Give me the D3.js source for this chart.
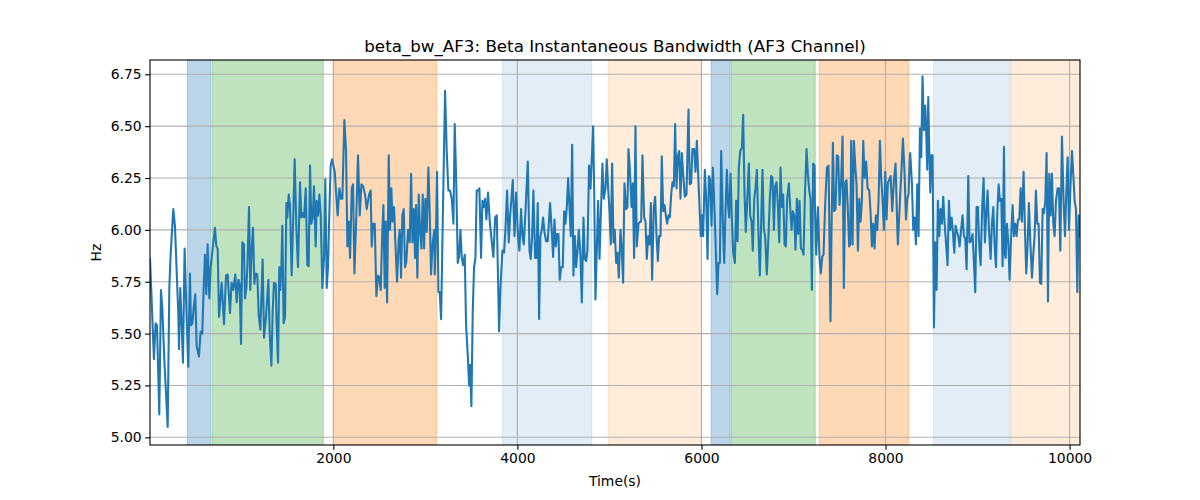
<!DOCTYPE html>
<html><head><meta charset="utf-8">
<script src="https://cdn.jsdelivr.net/npm/d3@7"></script>
<style>body{margin:0;background:#fff}svg{display:block}text{font-family:"DejaVu Sans",sans-serif;fill:#000}</style>
</head><body><div id="chart"></div>
<script>
const title = "beta_bw_AF3: Beta Instantaneous Bandwidth (AF3 Channel)";
const xLabel = "Time(s)";
const yLabel = "Hz";
const xTicks = [2000, 4000, 6000, 8000, 10000];
const yTicks = [5.00, 5.25, 5.50, 5.75, 6.00, 6.25, 6.50, 6.75];
const yDomain = [4.963, 6.819];

const spanStart = [413, 682, 2000, 3837, 4986, 6105, 6323, 7280, 8522, 9363];
const spanEnd   = [667, 1891, 3124, 4809, 6004, 6312, 7236, 8254, 9355, 10113];
const spanKind  = ["blue", "green", "orange", "blueLight", "orangeLight", "blue", "green", "orange", "blueLight", "orangeLight"];

const times = [8,51,69,84,109,127,142,163,200,218,232,261,279,316,323,337,352,366,384,403,424,442,453,468,482,500,515,540,558,576,591,605,620,634,653,667,689,714,729,743,758,787,812,834,852,877,895,913,935,950,968,982,997,1011,1029,1040,
1055,1066,1084,1098,1113,1127,1142,1156,1174,1189,1207,1232,1247,1268,1294,1308,1327,1341,1355,1374,1384,1399,1413,1424,1435,1446,1460,1475,1490,1500,1515,1529,1547,1566,1580,1598,1616,1638,1653,1667,1682,1700,1718,1732,1747,1761,1776,1790,1808,1819,1834,1848,1863,1881,1899,1913,1928,1942,1960,1971,1986,2015,2047,2066,
2084,2098,2120,2138,2153,2167,2182,2200,2214,2229,2250,2268,2287,2305,2323,2345,2363,2388,2406,2417,2432,2450,2468,2486,2500,2515,2529,2544,2558,2569,2584,2602,2616,2631,2642,2660,2674,2692,2710,2721,2736,2750,2765,2779,2794,2812,2830,2845,2859,2874,2888,2899,2913,2928,2942,2957,2971,2986,3000,3015,3033,3047,3062,3080,3098,
3102,3116,3127,3142,3156,3171,3189,3214,3232,3250,3268,3287,3305,3319,3337,3352,3366,3381,3395,3410,3428,3442,3464,3475,3486,3500,3515,3529,3544,3558,3573,3587,3605,3620,3634,3649,3663,3681,3700,3721,3739,3758,3776,3801,3819,3837,3855,3870,3888,3906,3921,3935,3950,3968,3986,4004,4022,4040,4055,4069,4087,4113,4131,
4145,4160,4174,4192,4207,4221,4236,4250,4265,4279,4294,4312,4330,4355,4374,4388,4403,4417,4431,4446,4460,4475,4493,4508,4522,4537,4551,4566,4580,4595,4609,4624,4638,4652,4667,4685,4700,4718,4732,4747,4761,4779,4794,4805,4823,4834,4848,4863,4877,4892,4910,4924,4939,4957,4971,4986,5000,5015,5029,5044,5058,5073,5087,5102,5120,5134,5149,5163,
5182,5196,5207,5221,5240,5254,5268,5283,5297,5316,5334,5345,5359,5377,5392,5406,5421,5435,5450,5464,5482,5497,5511,5526,5540,5555,5569,5584,5598,5613,5627,5642,5656,5671,5685,5700,5714,5729,5743,5758,5772,5787,5801,5819,5837,5859,5873,5888,5902,5921,5935,5950,5964,5979,5993,6004,6018,6037,6051,6066,6080,6095,6109,6124,6138,6152,6171,6185,6200,
6214,6232,6247,6261,6276,6290,6301,6316,6330,6345,6363,6377,6392,6406,6421,6439,6453,6468,6482,6497,6515,6529,6544,6558,6573,6587,6602,6620,6634,6649,6663,6678,6692,6710,6729,6743,6758,6772,6787,6801,6816,6830,6845,6859,6874,6888,6903,6917,6931,6950,6964,6979,6993,7008,7022,7037,7051,7066,7080,7095,7109,7124,7142,7156,7171,7185,7200,7214,7229,
7232,7247,7265,7283,7297,7312,7326,7344,7363,7381,7402,7413,7428,7442,7457,7471,7486,7500,7518,7533,7547,7562,7576,7591,7605,7616,7627,7642,7656,7671,7685,7700,7714,7729,7743,7758,7772,7790,7805,7823,7837,7852,7866,7881,7895,7910,7924,7939,7953,7968,7982,7997,8011,8026,8040,8055,8073,8091,8109,8124,8134,8153,8171,8189,8207,8222,8236,8250,8261,
8268,8287,8301,8316,8330,8345,8359,8374,8388,8402,8417,8431,8442,8453,8464,8475,8486,8497,8511,8526,8540,8555,8569,8584,8598,8613,8627,8642,8660,8674,8689,8703,8718,8732,8747,8761,8776,8790,8805,8819,8837,8852,8866,8881,8899,8913,8928,8946,8960,8975,8989,9004,9018,9033,9051,9066,9080,9095,9109,9124,9142,9156,9171,9185,9200,9214,9229,9243,9258,9272,9287,9297,
9305,9319,9334,9348,9363,9381,9395,9410,9424,9439,9453,9468,9482,9500,9515,9529,9544,9558,9573,9591,9605,9620,9634,9649,9663,9678,9692,9707,9721,9736,9750,9765,9779,9794,9808,9823,9837,9852,9870,9884,9899,9917,9935,9950,9964,9979,9993,10011,10026,10040,10055,10069,10084,10098,10113];

const values = [5.86,5.377,5.55,5.54,5.11,5.71,5.62,5.38,5.05,5.72,5.88,6.10,6.02,5.59,5.425,5.72,5.545,5.36,5.91,5.62,5.34,5.79,5.54,5.55,5.62,5.69,5.44,5.39,5.51,5.50,5.72,5.88,5.69,5.93,5.67,5.82,5.91,6.01,5.92,5.91,5.58,5.745,5.545,5.78,5.785,5.60,5.745,5.71,5.785,5.65,5.76,5.74,5.45,5.94,5.93,5.67,
5.72,5.82,6.11,5.71,5.91,6.01,5.74,5.79,5.785,5.59,5.52,5.857,5.48,5.58,5.76,5.51,5.345,5.61,5.745,5.74,5.545,5.36,5.82,5.71,5.82,6.02,5.55,5.58,6.13,6.06,6.17,6.12,5.78,6.09,6.34,6.01,5.82,6.23,6.06,6.08,6.06,6.20,5.83,5.825,6.31,6.03,6.06,6.21,5.92,6.14,6.07,6.17,6.07,5.72,5.87,6.245,5.72,5.82,6.14,6.31,6.34,6.28,6.07,6.20,
6.15,6.15,6.53,6.38,5.92,6.04,5.865,6.20,6.22,5.79,6.07,6.36,6.07,6.22,6.21,6.17,6.10,6.17,6.19,5.92,6.03,6.03,5.68,5.78,5.77,5.71,5.95,6.12,5.72,6.04,5.65,6.36,6.00,6.20,6.04,6.11,5.94,5.75,5.95,6.00,5.77,6.07,6.10,5.82,5.85,6.00,5.94,6.27,5.94,6.10,5.865,6.12,5.77,6.17,6.00,5.91,6.17,5.91,6.15,5.99,6.30,6.09,5.785,5.94,6.00,
5.785,6.00,6.28,5.70,5.70,5.57,6.04,6.67,6.38,6.19,6.19,6.15,6.03,6.51,6.20,5.84,5.87,6.00,5.87,5.83,5.88,5.545,5.37,5.25,5.35,5.15,5.61,5.82,5.865,6.19,6.19,6.20,5.865,6.14,6.11,6.15,6.05,6.18,6.04,5.945,5.87,6.06,6.07,5.51,5.75,5.90,5.89,6.00,6.19,5.94,6.07,6.15,6.24,5.97,6.18,5.99,5.90,6.10,5.97,5.93,6.08,6.33,5.90,
5.86,5.97,6.19,5.865,5.865,6.13,5.57,5.97,6.00,6.06,5.99,5.945,5.945,6.13,5.99,5.87,6.05,5.92,5.98,5.98,5.76,5.82,5.82,6.09,6.03,6.11,6.25,6.11,5.97,6.41,5.78,5.97,5.82,5.89,6.00,5.88,5.65,6.06,5.86,5.85,5.90,6.31,6.20,6.31,6.50,6.20,5.665,5.91,6.14,5.86,6.12,6.32,6.15,6.20,6.34,6.20,6.10,5.93,6.32,5.94,6.00,5.84,5.89,5.77,6.00,5.905,5.745,6.225,
6.10,6.11,6.39,6.30,6.11,6.225,5.865,6.50,5.92,6.03,6.04,6.04,6.36,6.06,6.04,5.86,5.97,5.93,6.13,5.76,6.11,6.16,5.98,5.85,5.97,5.97,6.355,6.09,6.12,6.07,6.03,6.07,6.06,6.17,6.23,6.21,6.51,6.20,6.355,6.38,6.15,6.37,6.27,6.16,6.17,6.58,6.22,6.225,6.39,6.39,6.28,6.43,6.27,6.11,5.97,6.07,5.97,6.29,6.15,5.86,6.26,6.24,6.02,6.30,6.14,5.96,5.69,5.84,5.84,
6.38,6.04,5.84,6.09,6.29,6.12,6.06,6.27,6.06,5.89,5.84,6.14,5.945,6.30,6.38,6.395,6.555,6.17,5.99,6.14,6.32,6.07,6.04,5.90,6.15,6.20,6.29,5.97,5.78,6.04,6.29,6.00,5.97,5.785,5.98,6.15,6.26,6.25,6.00,6.21,6.23,6.12,5.94,6.30,6.11,6.17,5.93,5.92,6.15,6.225,6.11,6.00,6.09,6.07,5.905,6.15,5.98,6.14,5.91,5.905,5.88,6.17,6.39,6.27,6.19,6.15,5.71,6.32,6.31,
6.13,5.88,6.11,5.86,5.79,5.87,5.88,6.12,6.30,6.31,5.56,5.99,6.42,6.09,6.10,6.36,6.355,6.12,6.24,6.45,5.72,6.23,6.24,6.09,5.92,5.93,6.43,5.93,6.43,6.31,6.22,5.90,6.15,6.04,6.14,6.43,6.25,6.33,6.20,6.19,6.09,5.92,6.03,5.91,6.07,6.00,6.14,6.43,6.25,6.14,6.00,6.28,6.05,6.23,6.24,6.26,6.09,6.24,6.32,6.07,5.93,6.11,6.27,6.44,6.27,6.05,6.15,6.17,6.32,
6.37,6.22,6.00,6.06,5.93,6.22,5.97,6.49,6.35,6.74,6.48,6.60,6.47,6.29,6.64,6.40,6.18,6.36,6.36,5.53,5.94,5.71,6.14,5.97,6.10,6.03,6.16,6.03,5.92,5.83,6.14,6.00,6.06,5.99,5.89,6.02,5.99,5.97,5.92,5.99,6.07,5.97,5.96,5.81,6.26,5.94,5.945,5.98,5.85,5.70,6.11,6.11,5.92,5.83,6.12,6.25,5.94,6.08,6.19,6.00,5.86,6.03,6.11,5.93,5.82,6.08,6.22,6.14,6.15,5.825,6.40,5.88,
5.865,6.03,5.945,5.76,5.95,6.12,5.97,6.03,5.97,6.05,6.05,6.20,6.04,6.28,6.00,5.79,5.93,6.13,5.945,5.77,5.88,5.97,6.19,6.03,6.03,5.745,5.74,6.10,6.08,6.14,6.37,5.655,6.27,6.07,6.27,6.03,5.97,6.14,6.20,6.20,5.90,6.45,6.13,5.97,6.18,6.35,6.00,6.23,6.38,6.27,6.14,6.10,5.70,6.07,5.97];

const kindColor = {blue:"#1f77b4", green:"#2ca02c", orange:"#ff7f0e", blueLight:"#1f77b4", orangeLight:"#ff7f0e"};
const kindAlpha = {blue:0.3, green:0.3, orange:0.3, blueLight:0.13, orangeLight:0.15};

const W = 1200, H = 500;
const m = {left:150, right:120, top:60, bottom:55};
const iw = W - m.left - m.right, ih = H - m.top - m.bottom;

const svg = d3.select("#chart").append("svg").attr("width", W).attr("height", H);
const g = svg.append("g").attr("transform", `translate(${m.left},${m.top})`);

const x = d3.scaleLinear().domain(d3.extent(times)).range([0, iw]);
const y = d3.scaleLinear().domain(yDomain).range([ih, 0]);

g.append("defs").append("clipPath").attr("id","clip").append("rect").attr("width", iw).attr("height", ih);

// spans
const spans = spanStart.map((s,i)=>({s, e:spanEnd[i], k:spanKind[i]}));
g.append("g").attr("clip-path","url(#clip)").selectAll("rect").data(spans).join("rect")
  .attr("x", d=>x(d.s)).attr("width", d=>x(d.e)-x(d.s))
  .attr("y", 0).attr("height", ih)
  .attr("fill", d=>kindColor[d.k]).attr("fill-opacity", d=>kindAlpha[d.k])
  .attr("stroke", d=>kindColor[d.k]).attr("stroke-opacity", d=>kindAlpha[d.k]).attr("stroke-width", 1);

// grid
g.append("g").selectAll("line").data(xTicks).join("line")
  .attr("x1", d=>x(d)).attr("x2", d=>x(d)).attr("y1", 0).attr("y2", ih)
  .attr("stroke", "#b0b0b0").attr("stroke-width", 1.1);
g.append("g").selectAll("line").data(yTicks).join("line")
  .attr("y1", d=>y(d)).attr("y2", d=>y(d)).attr("x1", 0).attr("x2", iw)
  .attr("stroke", "#b0b0b0").attr("stroke-width", 1.1);

// line
const pts = times.map((t,i)=>[t, values[i]]);
g.append("path").attr("clip-path","url(#clip)").datum(pts)
  .attr("fill","none").attr("stroke","#1f77b4").attr("stroke-width",2.08)
  .attr("stroke-linejoin","round").attr("stroke-linecap","square")
  .attr("d", d3.line().x(d=>x(d[0])).y(d=>y(d[1])));

// axes
const xAxis = g.append("g").attr("transform", `translate(0,${ih})`)
  .call(d3.axisBottom(x).tickValues(xTicks).tickFormat(d3.format("d")).tickSizeOuter(0).tickSize(4.86).tickPadding(3.5));
const yAxis = g.append("g")
  .call(d3.axisLeft(y).tickValues(yTicks).tickFormat(d3.format(".2f")).tickSizeOuter(0).tickSize(4.86).tickPadding(3.5));
[xAxis, yAxis].forEach(a=>{
  a.select(".domain").remove();
  a.selectAll(".tick line").attr("stroke","#000").attr("stroke-width",1.1);
  a.selectAll(".tick text").attr("font-size","13.9px").attr("font-family","DejaVu Sans").attr("fill","#000");
});

// frame
g.append("rect").attr("width", iw).attr("height", ih).attr("fill","none").attr("stroke","#000").attr("stroke-width",1.1);

// labels
svg.append("text").attr("x", m.left + iw/2).attr("y", 52).attr("text-anchor","middle")
  .attr("font-size","16.7px").text(title);
svg.append("text").attr("x", m.left + iw/2).attr("y", 486).attr("text-anchor","middle")
  .attr("font-size","13.9px").text(xLabel);
svg.append("text").attr("transform", `translate(101,${m.top + ih/2}) rotate(-90)`).attr("text-anchor","middle")
  .attr("font-size","13.9px").text(yLabel);
</script></body></html>
